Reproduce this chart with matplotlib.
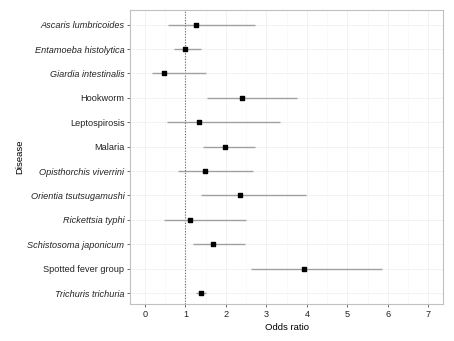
"""Forest plot of odds ratios by disease."""

import matplotlib

matplotlib.use("Agg")
import matplotlib.pyplot as plt
from matplotlib.ticker import MultipleLocator

plt.rcParams["font.family"] = ["Liberation Sans", "DejaVu Sans"]

diseases = [
    "Ascaris lumbricoides",
    "Entamoeba histolytica",
    "Giardia intestinalis",
    "Hookworm",
    "Leptospirosis",
    "Malaria",
    "Opisthorchis viverrini",
    "Orientia tsutsugamushi",
    "Rickettsia typhi",
    "Schistosoma japonicum",
    "Spotted fever group",
    "Trichuris trichuria",
]
italic = [True, True, True, False, False, False, True, True, True, True, False, True]
odds = [1.25, 1.00, 0.48, 2.40, 1.34, 1.98, 1.48, 2.35, 1.11, 1.69, 3.92, 1.38]
lower = [0.58, 0.72, 0.17, 1.54, 0.54, 1.44, 0.82, 1.39, 0.48, 1.18, 2.61, 1.25]
upper = [2.72, 1.39, 1.51, 3.75, 3.33, 2.72, 2.68, 3.98, 2.49, 2.46, 5.85, 1.51]

fig = plt.figure(figsize=(4.54, 3.41), dpi=100)
ax = fig.add_axes([0.2863, 0.1085, 0.6902, 0.8622])

ypos = list(range(len(diseases)))
ax.hlines(ypos, lower, upper, color="#a0a0a0", lw=1.0, zorder=3)
ax.scatter(odds, ypos, marker="s", s=8, color="black", zorder=4)
ax.axvline(1, color="#666666", ls=(0, (1, 1.5)), lw=0.8, zorder=2)

ax.set_xlim(-0.37, 7.37)
ax.set_ylim(len(diseases) - 0.55, -0.6)
ax.xaxis.set_major_locator(MultipleLocator(1))
ax.xaxis.set_minor_locator(MultipleLocator(0.5))
ax.set_yticks(ypos)
ax.set_yticklabels(diseases)
for lab, it in zip(ax.get_yticklabels(), italic):
    lab.set_fontstyle("italic" if it else "normal")

ax.grid(which="major", color="#f0f0f0", lw=0.6, zorder=0)
ax.grid(which="minor", axis="x", color="#f7f7f7", lw=0.5, zorder=0)
ax.tick_params(which="minor", length=0)
ax.tick_params(which="major", length=2, width=0.5, color="#333333",
               labelsize=6.6, labelcolor="#222222", pad=2)
for sp in ax.spines.values():
    sp.set_color("#c0c0c0")
    sp.set_linewidth(0.8)

ax.set_xlabel("Odds ratio", fontsize=6.8, labelpad=3)
ax.set_ylabel("Disease", fontsize=6.8, labelpad=2)

fig.savefig("out.png", dpi=100)
